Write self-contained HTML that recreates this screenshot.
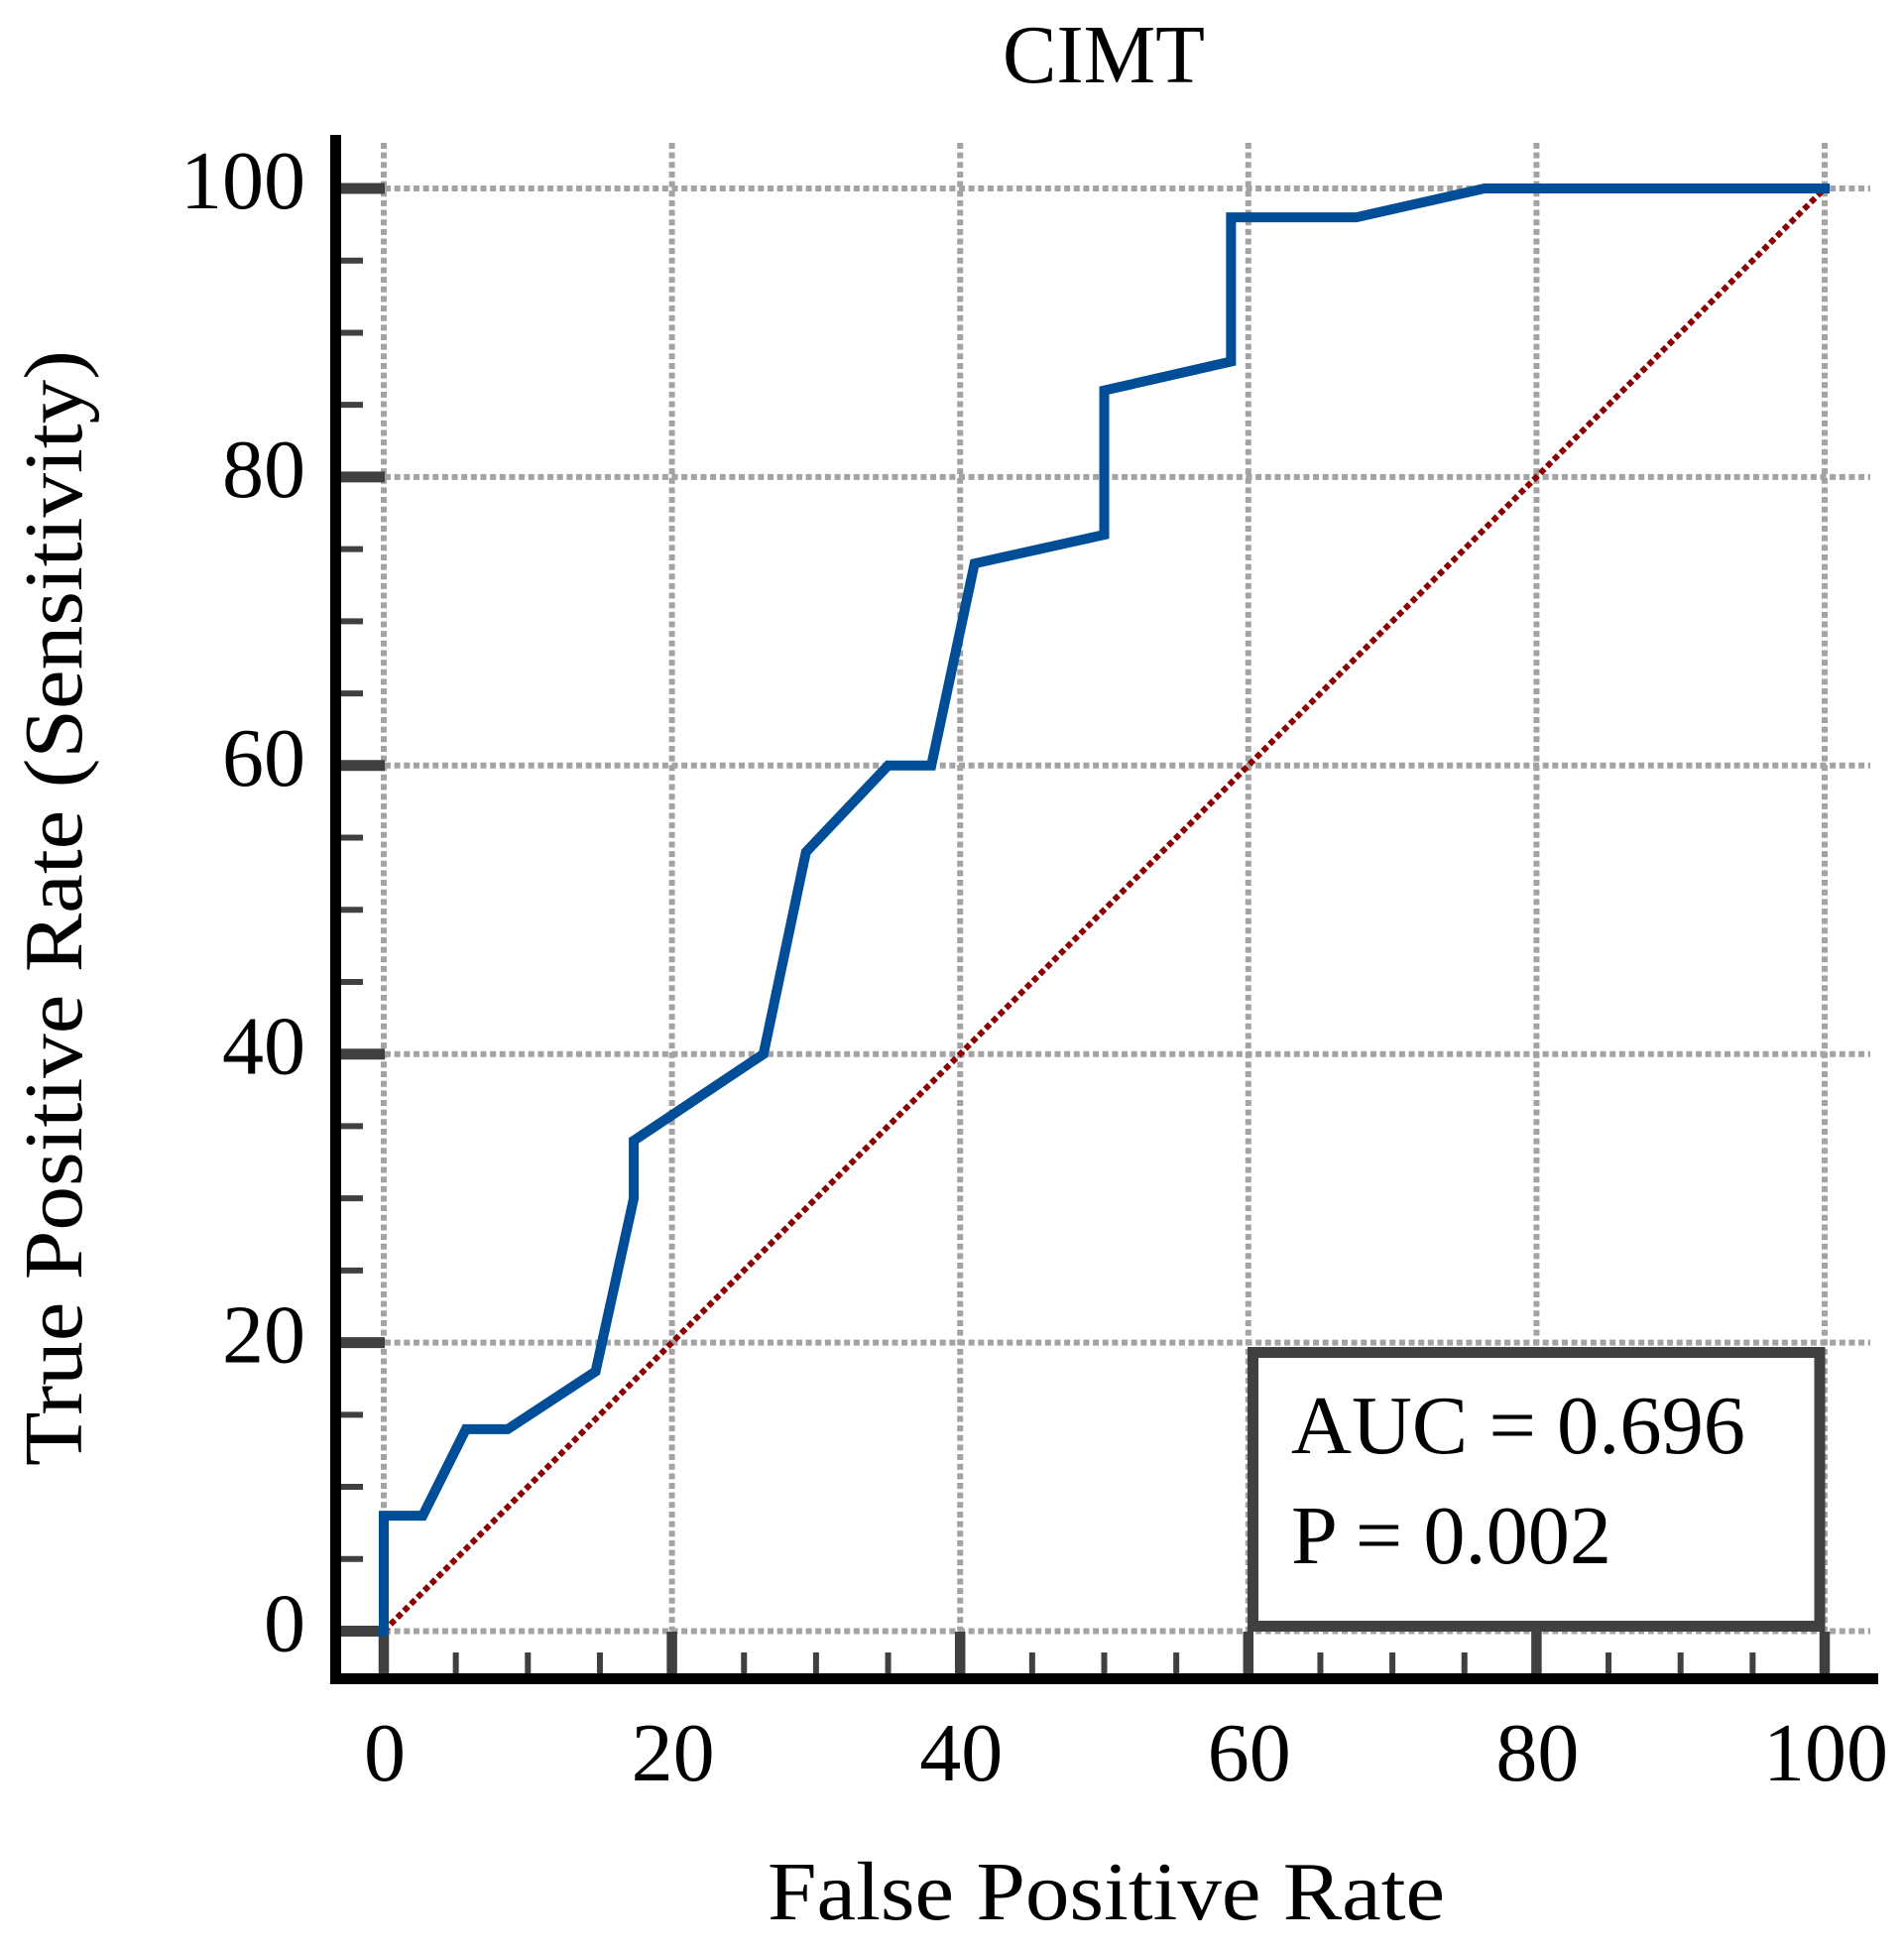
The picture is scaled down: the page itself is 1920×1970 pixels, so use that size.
<!DOCTYPE html>
<html lang="en">
<head>
<meta charset="utf-8">
<title>CIMT ROC curve</title>
<style>
html,body{margin:0;padding:0;background:#fff;}
svg{display:block;}
text{font-family:"Liberation Serif",serif;font-size:84px;fill:#000;}
</style>
</head>
<body>
<svg id="chart" xmlns="http://www.w3.org/2000/svg" width="1920" height="1970" viewBox="0 0 1920 1970">
<rect x="0" y="0" width="1920" height="1970" fill="#fff"/>
<text x="1011" y="83" textLength="204" lengthAdjust="spacingAndGlyphs">CIMT</text>
<text x="774" y="1935" textLength="683" lengthAdjust="spacingAndGlyphs">False Positive Rate</text>
<text transform="translate(82 1478) rotate(-90)" x="0" y="0" textLength="1125" lengthAdjust="spacingAndGlyphs">True Positive Rate (Sensitivity)</text>
<g id="grid"></g>
<g id="ticks"></g>
<g id="tick-labels"></g>
<g id="series"></g>
<rect x="333" y="1687" width="1561" height="11" fill="#000"/>
<rect x="333" y="136" width="11" height="1562" fill="#000"/>
<g>
<rect x="1263.5" y="1363.5" width="571.5" height="276" fill="#fff" stroke="#404040" stroke-width="11"/>
<text x="1302" y="1465" textLength="458" lengthAdjust="spacingAndGlyphs">AUC = 0.696</text>
<text x="1302" y="1576" textLength="323" lengthAdjust="spacingAndGlyphs">P = 0.002</text>
</g>
</svg>
<script>
const majorTicks = [0, 20, 40, 60, 80, 100];
const minorTicks = [5, 10, 15, 25, 30, 35, 45, 50, 55, 65, 70, 75, 85, 90, 95];
const fprValues = [0, 0, 2.7, 5.7, 8.6, 14.7, 17.35, 17.35, 26.35, 29.3, 35, 38, 41, 50, 50, 58.8, 58.8, 67.5, 76.4, 100];
const tprValues = [0, 8, 8, 14, 14, 18, 30, 34, 40, 54, 60, 60, 74, 76, 86, 88, 98, 98, 100, 100];
const chanceX = [0, 100];
const chanceY = [0, 100];

const NS = 'http://www.w3.org/2000/svg';
function xScale(v) { return 387 + 14.53 * v; }
function yScale(v) { return 1644.5 - 14.545 * v; }
function make(tag, parent, attrs) {
  const el = document.createElementNS(NS, tag);
  for (const k in attrs) el.setAttribute(k, attrs[k]);
  parent.appendChild(el);
  return el;
}
const gridG = document.getElementById('grid');
const tickG = document.getElementById('ticks');
const labelG = document.getElementById('tick-labels');
const seriesG = document.getElementById('series');

majorTicks.forEach(function (t) {
  const gv = make('line', gridG, { x1: xScale(t), x2: xScale(t), y1: 144, y2: yScale(0), stroke: '#a3a3a3', 'stroke-width': 6, 'stroke-dasharray': '6 3.65' });
  
  
  const gh = make('line', gridG, { x1: xScale(0) + 1, x2: 1886, y1: yScale(t), y2: yScale(t), stroke: '#a3a3a3', 'stroke-width': 6, 'stroke-dasharray': '6 3.65' });
  
  
  const tx = make('line', tickG, { x1: xScale(t), x2: xScale(t), y1: 1645, y2: 1687, stroke: '#404040', 'stroke-width': 10.5 });
  
  
  const ty = make('line', tickG, { x1: 344, x2: 388, y1: yScale(t), y2: yScale(t), stroke: '#404040', 'stroke-width': 11 });
  
  
  const lx = make('text', labelG, { x: xScale(t) + 1, y: 1795, 'text-anchor': 'middle' });
  
  
  lx.textContent = String(t);
  const ly = make('text', labelG, { x: 308, y: yScale(t) + 20, 'text-anchor': 'end' });
  
  
  ly.textContent = String(t);
});
minorTicks.forEach(function (t) {
  const tx = make('line', tickG, { x1: xScale(t), x2: xScale(t), y1: 1666, y2: 1687, stroke: '#404040', 'stroke-width': 6 });
  
  
  const ty = make('line', tickG, { x1: 344, x2: 366, y1: yScale(t), y2: yScale(t), stroke: '#404040', 'stroke-width': 6 });
  
  
});
const chance = make('line', seriesG, { x1: xScale(chanceX[0]), y1: yScale(chanceY[0]), x2: xScale(chanceX[1]), y2: yScale(chanceY[1]), stroke: '#8b0000', 'stroke-width': 6, 'stroke-dasharray': '6 3.65' });


const rocPoints = fprValues.map(function (v, i) { return xScale(v) + ',' + yScale(tprValues[i]); }).join(' ');
const roc = make('polyline', seriesG, { points: rocPoints, fill: 'none', stroke: '#004d98', 'stroke-width': 10, 'stroke-linejoin': 'miter', 'stroke-miterlimit': 10, 'stroke-linecap': 'square' });


</script>
</body>
</html>
